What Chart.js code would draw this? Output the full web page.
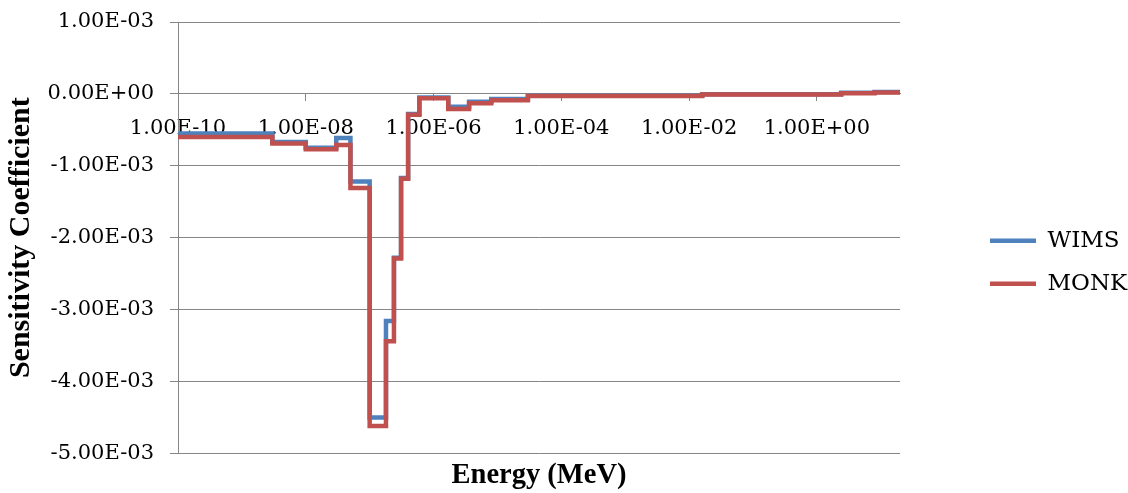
<!DOCTYPE html>
<html lang="en">
<head>
<meta charset="UTF-8">
<title>Sensitivity Coefficient</title>
<script src="https://cdn.jsdelivr.net/npm/chart.js@4"></script>
<style>
    body { margin: 0; background: #ffffff; }
</style>
</head>
<body>
<canvas id="grafico" width="1128" height="493"></canvas>

<script>
    // lower edge of each energy group (MeV); the last entry closes the top group
    const energia = [1e-10, 3e-9, 1e-8, 3e-8, 5e-8, 1e-7, 1.8e-7, 2.4e-7, 3.1e-7, 4e-7, 6e-7,
        1.7e-6, 3.6e-6, 8e-6, 3e-5, 1.6e-2, 2.4, 8, 20];

    // sensitivity coefficient of each group
    const wims = [-5.5e-4, -6.7e-4, -7.5e-4, -6.15e-4, -1.22e-3, -4.50e-3, -3.16e-3, -2.28e-3,
        -1.17e-3, -2.8e-4, -5e-5, -1.8e-4, -1.1e-4, -7e-5, -2.5e-5, -5e-6, 1.5e-5, 2.5e-5];
    const monk = [-6.0e-4, -6.9e-4, -7.7e-4, -7.1e-4, -1.31e-3, -4.62e-3, -3.44e-3, -2.29e-3,
        -1.18e-3, -2.9e-4, -6e-5, -2.1e-4, -1.3e-4, -9e-5, -3e-5, -1e-5, 1e-5, 2e-5];

    const ticksX = [1e-10, 1e-8, 1e-6, 1e-4, 1e-2, 1];
    const ticksY = [1e-3, 0, -1e-3, -2e-3, -3e-3, -4e-3, -5e-3];

    const cinza = '#868686';
    const fonteTicks = { family: 'DejaVu Serif', size: 21 };

    // Excel style scientific notation: 1.00E-03
    function formatoExcel(v) {
        if (v === 0) return '0.00E+00';
        let partes = v.toExponential(2).toUpperCase().split('E');
        let sinal = partes[1][0] === '-' ? '-' : '+';
        let expoente = partes[1].replace(/[+-]/, '').padStart(2, '0');
        return partes[0] + 'E' + sinal + expoente;
    }

    // one point per group edge, the stepped line holds each value up to the next edge
    function degraus(valores) {
        return energia.map((e, i) => ({ x: e, y: valores[Math.min(i, valores.length - 1)] }));
    }

    const config = {
        type: 'line',
        data: {
            datasets: [{
                label: 'WIMS',
                data: degraus(wims),
                borderColor: '#4F81BD',
                backgroundColor: '#4F81BD',
                order: 2
            }, {
                label: 'MONK',
                data: degraus(monk),
                borderColor: '#C0504D',
                backgroundColor: '#C0504D',
                order: 1
            }]
        },
        options: {
            responsive: false,
            animation: false,
            devicePixelRatio: 1,
            datasets: {
                line: {
                    stepped: true,
                    borderWidth: 4.5,
                    pointRadius: 0,
                    borderCapStyle: 'round',
                    borderJoinStyle: 'miter',
                    fill: false
                }
            },
            layout: {
                padding: { top: 22 }
            },
            scales: {
                x: {
                    type: 'logarithmic',
                    position: { y: 0 },
                    min: 1e-10,
                    max: 20,
                    afterBuildTicks: s => { s.ticks = ticksX.map(v => ({ value: v })); },
                    afterFit: s => { s.height = 0; },
                    ticks: {
                        callback: v => formatoExcel(v),
                        font: fonteTicks,
                        color: '#000000',
                        padding: 15.4,
                        maxRotation: 0,
                        autoSkip: false
                    },
                    grid: { drawOnChartArea: false, drawTicks: true, tickLength: 7, color: cinza },
                    border: { color: cinza, width: 1 }
                },
                y: {
                    min: -5e-3,
                    max: 1e-3,
                    afterBuildTicks: s => { s.ticks = ticksY.map(v => ({ value: v })); },
                    afterFit: s => {
                        s.width = 178;
                        s.paddingTop = 0;
                        s.paddingBottom = 0;
                    },
                    ticks: {
                        callback: v => formatoExcel(v),
                        font: fonteTicks,
                        color: '#000000',
                        padding: 16
                    },
                    grid: { color: cinza, tickLength: 8 },
                    border: { color: cinza },
                    title: {
                        display: true,
                        text: 'Sensitivity Coefficient',
                        color: '#000000',
                        font: { family: 'Liberation Serif', size: 30, weight: 'bold' },
                        padding: { top: 3.5, bottom: 0 }
                    }
                },
                // empty strip between the plot and the legend
                espaco: {
                    position: 'right',
                    grid: { display: false },
                    border: { display: false },
                    ticks: { display: false },
                    afterFit: s => { s.width = 70; }
                }
            },
            plugins: {
                legend: {
                    position: 'right',
                    align: 'center',
                    maxWidth: 158,
                    title: { display: true, text: ' ', font: { size: 8 }, padding: 0 },
                    labels: {
                        usePointStyle: true,
                        pointStyle: 'line',
                        pointStyleWidth: 46,
                        padding: 20,
                        color: '#000000',
                        font: { family: 'DejaVu Serif', size: 23 },
                        sort: (a, b) => a.datasetIndex - b.datasetIndex
                    }
                },
                title: {
                    display: true,
                    position: 'bottom',
                    fullSize: false,
                    text: 'Energy (MeV)',
                    color: '#000000',
                    font: { family: 'Liberation Serif', size: 28.5, weight: 'bold' },
                    padding: { top: 4.8, bottom: 0.6 }
                },
                tooltip: { enabled: false }
            }
        }
    };

    let meuGrafico = new Chart(document.getElementById('grafico'), config);
</script>
</body>
</html>
